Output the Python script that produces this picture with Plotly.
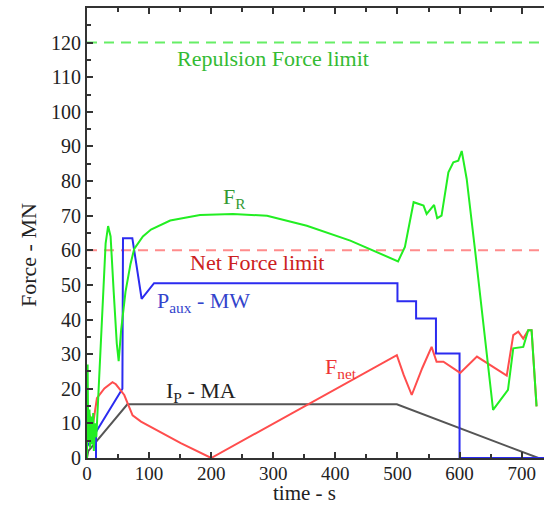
import plotly.graph_objects as go

# ---- data ----
ip_t = [0, 2, 65, 499, 727]
ip_v = [0, 2, 15.5, 15.5, 0]

paux_t = [0, 14.5, 14.5, 14.5, 57, 58, 73, 88, 108, 500, 500, 530, 530, 562, 562, 600, 600, 736]
paux_v = [3.3, 7.5, 0, 7.5, 20, 63.5, 63.5, 46, 50.5, 50.5, 45.3, 45.3, 40.3, 40.3, 30.2, 30.2, 0, 0]

fnet_t = [3, 9.6, 16, 28, 41, 46.5, 60, 73.4, 87, 151, 200, 499, 510, 523, 540, 555, 563, 574, 601,
          628, 676, 686.5, 694.6, 702.6, 710.6, 716, 724]
fnet_v = [13, 9.6, 17.3, 20.1, 21.9, 21.3, 18.2, 12.3, 10.5, 4.3, 0, 29.7, 24, 18.2, 26, 32.1, 27.8, 27.8, 24.6,
          29.3, 23.8, 35.5, 36.5, 34.5, 36.9, 36.9, 14.9]

fr_t = [0, 1, 2, 4, 5, 7, 8, 10, 11, 13, 15, 17, 25, 30, 34, 38, 43, 48, 51, 55, 62, 70, 76, 90, 103,
        134, 182, 235, 290, 354, 424, 501, 512, 526, 542, 547, 559, 564, 571, 582, 590, 598, 603.5,
        611.5, 625, 654, 678, 686.5, 702.6, 710.6, 716, 724]
fr_v = [0, 27, 5, 14, 3, 12, 4, 13, 2, 10, 6, 14, 45, 62, 67, 64, 48, 33, 28, 37, 48, 56, 60.4, 64, 66,
        68.6, 70.2, 70.5, 70, 67.1, 62.8, 56.8, 61, 73.9, 72.9, 70.5, 73.1, 69.3, 70, 82.5, 85.4, 85.9, 88.7,
        80.6, 60, 13.9, 19.7, 31.7, 32.1, 36.9, 36.9, 14.9]

repulsion_limit = 120
net_limit = 60
x_ticks = [0, 100, 200, 300, 400, 500, 600, 700]
y_ticks = [0, 10, 20, 30, 40, 50, 60, 70, 80, 90, 100, 110, 120]

FONT = "Liberation Serif"

fig = go.Figure()
# limit lines
fig.add_trace(go.Scatter(x=[0, 736], y=[repulsion_limit] * 2, mode="lines",
                         line=dict(color="#66ee66", width=2, dash="10px,7px"), hoverinfo="skip"))
fig.add_trace(go.Scatter(x=[0, 736], y=[net_limit] * 2, mode="lines",
                         line=dict(color="#ff8c8c", width=2, dash="10px,7px"), hoverinfo="skip"))
fig.add_trace(go.Scatter(x=ip_t, y=ip_v, mode="lines", line=dict(color="#555555", width=2)))
fig.add_trace(go.Scatter(x=paux_t, y=paux_v, mode="lines", line=dict(color="#2b2bf0", width=2)))
fig.add_trace(go.Scatter(x=fnet_t, y=fnet_v, mode="lines", line=dict(color="#ff4d4d", width=2)))
fig.add_trace(go.Scatter(x=fr_t, y=fr_v, mode="lines", line=dict(color="#22ee22", width=2)))

def ann(x, y, text, color, size=22):
    fig.add_annotation(x=x, y=y, text=text, showarrow=False, xanchor="center", yanchor="middle",
                       font=dict(family=FONT, size=size, color=color))

ann(300, 115.3, "Repulsion Force limit", "#33bb33")
ann(274, 56.5, "Net Force limit", "#cc2020")
ann(237, 75, "F<sub>R</sub>", "#339933")
ann(188, 45, "P<sub>aux</sub> - MW", "#3344cc")
ann(183, 19, "I<sub>P</sub> - MA", "#222222")
ann(409, 26, "F<sub>net</sub>", "#ee3333")

# axis titles placed as annotations (paper coords: plot area 87..544 x 8..458 px)
fig.add_annotation(xref="paper", yref="paper", x=(304 - 87) / 457, y=-(493 - 458) / 450,
                   text="time - s", showarrow=False, xanchor="center", yanchor="middle",
                   font=dict(family=FONT, size=21, color="#222222"))
fig.add_annotation(xref="paper", yref="paper", x=-(87 - 28) / 457, y=(458 - 255) / 450,
                   text="Force - MN", showarrow=False, xanchor="center", yanchor="middle",
                   textangle=-90, font=dict(family=FONT, size=22, color="#222222"))

fig.update_layout(
    width=544, height=505,
    margin=dict(l=87, r=0, t=8, b=47),
    paper_bgcolor="white", plot_bgcolor="white",
    showlegend=False,
    font=dict(family=FONT, size=21, color="#222222"),
    xaxis=dict(range=[0, 736], tickvals=x_ticks, ticks="inside", ticklen=6, tickwidth=1.5,
               tickcolor="#333333", showline=True, linecolor="#333333", linewidth=2,
               mirror="ticks", showgrid=False, zeroline=False, ticklabelstandoff=-3,
               minor=dict(dtick=50, tick0=0, ticks="inside", ticklen=4, tickcolor="#333333"),
               tickfont=dict(size=19)),
    yaxis=dict(range=[0, 130], tickvals=y_ticks, ticks="inside", ticklen=6, tickwidth=1.5,
               tickcolor="#333333", showline=True, linecolor="#333333", linewidth=2,
               mirror=False, showgrid=False, zeroline=False,
               minor=dict(dtick=5, tick0=0, ticks="inside", ticklen=4, tickcolor="#333333"),
               tickfont=dict(size=20)),
)

fig.write_html("out.html")
